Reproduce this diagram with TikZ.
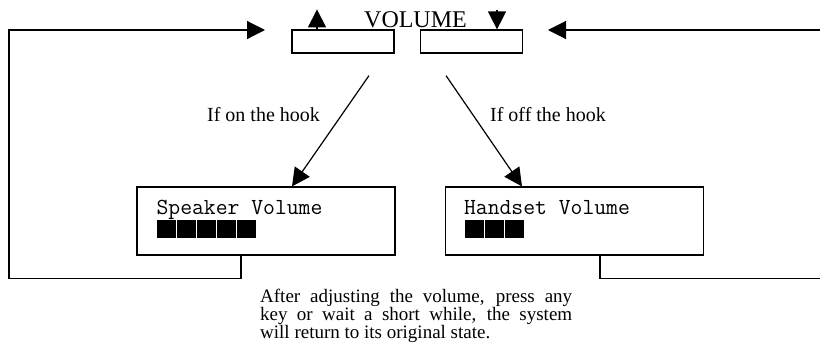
\documentclass[tikz,border=0pt]{standalone}
\usepackage{fontspec}
\setmainfont{Liberation Serif}
\usetikzlibrary{arrows.meta,positioning}

\tikzset{
  keybox/.style={draw, line width=1.2pt, minimum width=102pt, minimum height=23pt, inner sep=0pt},
  lcdbox/.style={draw, line width=1.2pt, minimum width=258pt, minimum height=68pt, inner sep=0pt},
  lcdtext/.style={anchor=base west, inner sep=0pt, font=\ttfamily\fontsize{23}{23}\selectfont},
  hooklabel/.style={anchor=base, inner sep=0pt, font=\fontsize{20}{20}\selectfont},
  flow/.style={line width=1.2pt, -{Triangle[length=18pt,width=18pt]}},
  wire/.style={line width=1.2pt}
}

\begin{document}
\begin{tikzpicture}[x=1pt,y=-1pt]
\useasboundingbox (0,0) rectangle (820,343);
\clip (0,0) rectangle (820,343);

% Volume keys
\node[keybox] (keyup) at (343,41.5) {};
\node[keybox] (keydown) at (471.5,41.5) {};
\node[anchor=base, inner sep=0pt, font=\fontsize{24}{24}\selectfont] (vol) at (415.5,27) {VOLUME};
\draw[flow] ([xshift=-26pt]keyup.north) -- ++(0,-20);
\draw[flow] ([xshift=25.5pt,yshift=19pt]keydown.north) -- ([xshift=25.5pt]keydown.north);

% Display boxes
\node[lcdbox] (spk) at (266,221) {};
\node[lcdbox] (hset) at (574.5,221) {};
\node[lcdtext] (spktxt) at ([xshift=20pt,yshift=-28pt]spk.north west) {Speaker Volume};
\node[lcdtext] (hsettxt) at ([xshift=19pt,yshift=-28pt]hset.north west) {Handset Volume};

% Level bars
\coordinate (spkbar) at (157,220);
\coordinate (hsetbar) at (465,220);
\foreach \i in {0,...,4}
  \fill ([xshift=\i*20pt]spkbar) rectangle ++(19,18);
\foreach \i in {0,...,2}
  \fill ([xshift=\i*20pt]hsetbar) rectangle ++(19,18);

% Hook state
\draw[flow] ([xshift=26pt,yshift=-22pt]keyup.south) -- ([xshift=26pt]spk.north);
\draw[flow] ([xshift=-25.5pt,yshift=-22pt]keydown.south) -- ([xshift=-52.5pt]hset.north);
\node[hooklabel] (onlbl) at (263.5,121.7) {If on the hook};
\node[hooklabel] (offlbl) at (548,121.7) {If off the hook};

% Return paths
\coordinate (lefttip) at (265,30);
\coordinate (righttip) at (548,30);
\draw[flow] ([xshift=-25pt]spk.south) -- ++(0,23) -| (9,30) -- (lefttip);
\draw[flow] ([xshift=25.5pt]hset.south) -- ++(0,23) -| (824,30) -- (righttip);

% Note
\node[anchor=north west, text width=312pt, align=justify, inner sep=0pt,
      font=\fontsize{19}{11}\selectfont] (note) at (260,288.5)
  {\lineskiplimit=-100pt After adjusting the volume, press any key or wait a short while, the system\linebreak will return to its original state.};
\end{tikzpicture}
\end{document}
